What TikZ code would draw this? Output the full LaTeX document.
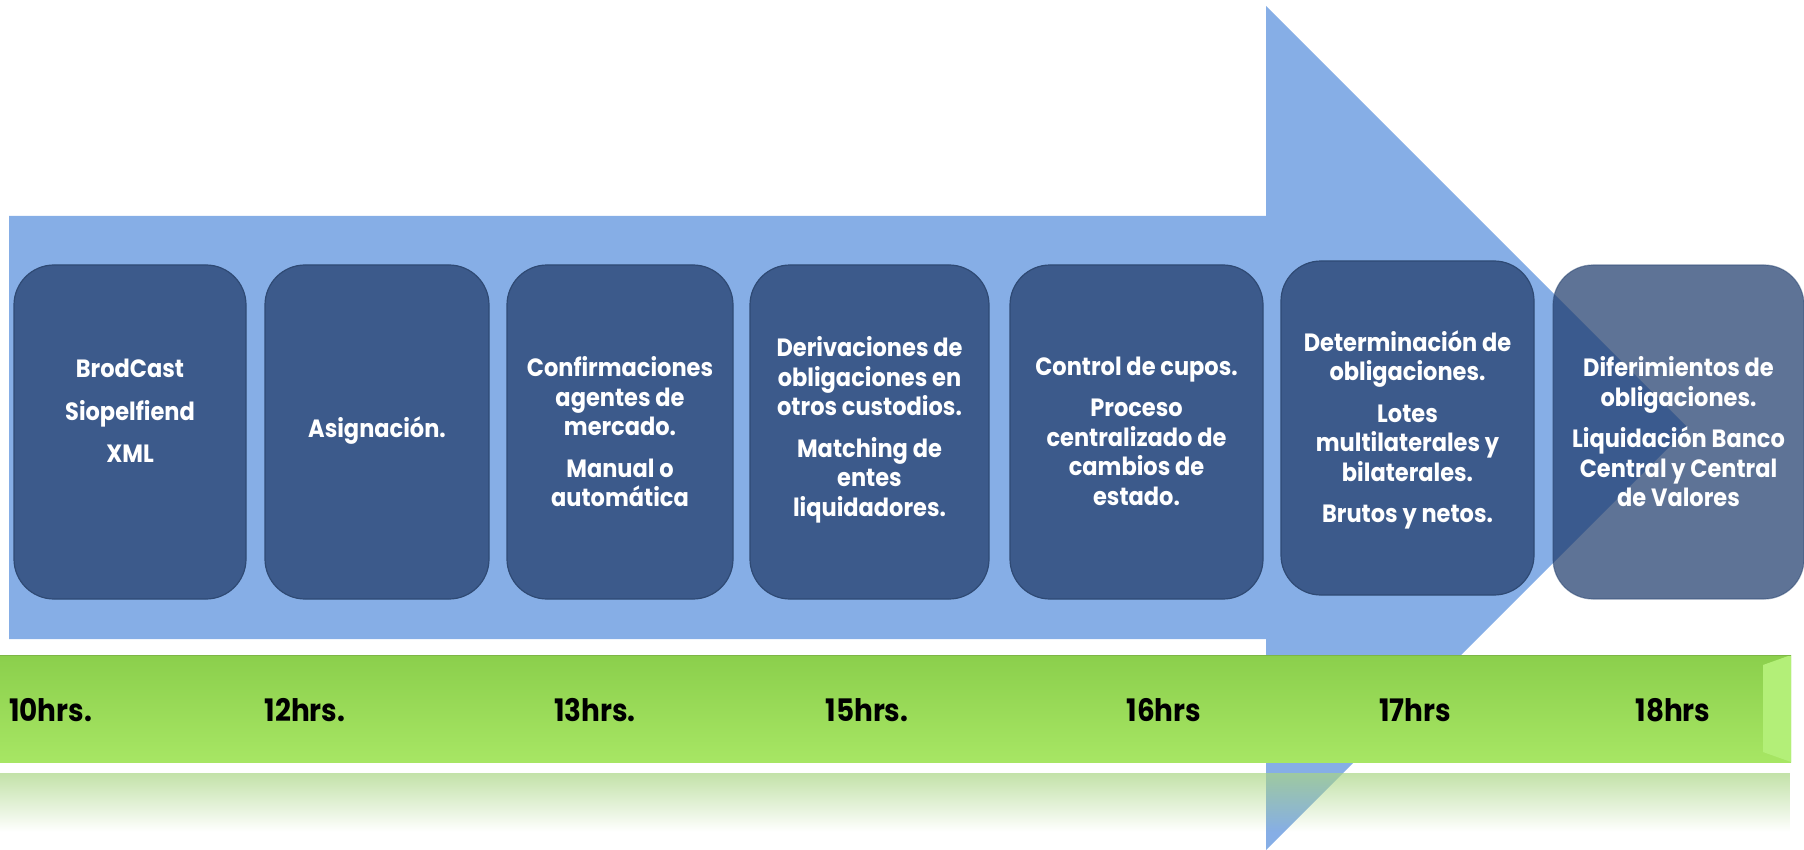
\documentclass[tikz,border=0pt]{standalone}
\usepackage{fontspec}
\setmainfont{Poppins}[FakeStretch=0.9]
\usetikzlibrary{fadings}
\definecolor{arrowblue}{HTML}{86AEE6}
\definecolor{boxblue}{HTML}{3C5A8B}
\definecolor{boxedge}{HTML}{2F4A74}
\definecolor{lastbox}{HTML}{1A3769}
\definecolor{greentop}{HTML}{8BCF4C}
\definecolor{greenbot}{HTML}{A7E664}
\definecolor{greenbevel}{HTML}{B3EF78}
\definecolor{greenline}{HTML}{7DB646}
\definecolor{reflgreen}{HTML}{A9D583}
\tikzfading[name=reflfade, top color=transparent!30, bottom color=transparent!100]
\begin{document}
\begin{tikzpicture}[x=1pt,y=-1pt,
  stepbox/.style={draw=boxedge, line width=1.2pt, fill=boxblue, rounded corners=40pt, inner sep=0pt, minimum height=334pt},
  boxtext/.style={text=white, align=center, font=\bfseries\fontsize{25}{29.5}\selectfont, inner sep=0pt},
  hrs/.style={text=black, font=\bfseries\fontsize{31}{34}\selectfont, inner sep=0pt}]
\useasboundingbox (0,0) rectangle (1804,850);
% big arrow
\fill[arrowblue] (9,216) -- (1266,216) -- (1266,6) -- (1688,428) -- (1266,850) -- (1266,639) -- (9,639) -- cycle;
% boxes
\node[stepbox, minimum width=232pt] (b1) at (130,432) {};
\node[stepbox, minimum width=224pt] (b2) at (377,432) {};
\node[stepbox, minimum width=226pt] (b3) at (620,432) {};
\node[stepbox, minimum width=239pt] (b4) at (869.5,432) {};
\node[stepbox, minimum width=253pt] (b5) at (1136.5,432) {};
\node[stepbox, minimum width=253pt] (b6) at (1407.5,428) {};
\node[stepbox, minimum width=251pt, fill=lastbox, fill opacity=0.7, draw opacity=0.5] (b7) at (1678.5,432) {};
% box texts
\node[boxtext] (t1) at (130,411) {BrodCast\\[13pt]Siopelfiend\\[13pt]XML};
\node[boxtext] (t2) at (377,431) {Asignación.};
\node[boxtext] (t3) at (620,432) {Confirmaciones\\agentes de\\mercado.\\[12pt]Manual o\\automática};
\node[boxtext] (t4) at (869.5,430) {Derivaciones de\\obligaciones en\\otros custodios.\\[12pt]Matching de\\entes\\liquidadores.};
\node[boxtext] (t5) at (1136.5,431) {Control de cupos.\\[12pt]Proceso\\centralizado de\\cambios de\\estado.};
\node[boxtext] (t6) at (1407.5,430) {Determinación de\\obligaciones.\\[12pt]Lotes\\multilaterales y\\bilaterales.\\[12pt]Brutos y netos.};
\node[boxtext] (t7) at (1678.5,432) {Diferimientos de\\obligaciones.\\[12pt]Liquidación Banco\\Central y Central\\de Valores};
% green time bar
\shade[top color=greentop, bottom color=greenbot] (0,655) rectangle (1791,762);
\fill[greenbevel] (1763,665) -- (1791,655) -- (1791,762) -- (1763,752) -- cycle;
\draw[greenline, line width=1pt] (0,655.5) -- (1791,655.5);
% reflection
\fill[reflgreen, path fading=reflfade] (0,773) rectangle (1791,832);
% hours
\node[hrs, anchor=west] (h10) at (9,710) {10hrs.};
\node[hrs] (h12) at (305,710) {12hrs.};
\node[hrs] (h13) at (595,710) {13hrs.};
\node[hrs] (h15) at (867,710) {15hrs.};
\node[hrs] (h16) at (1164,710) {16hrs};
\node[hrs] (h17) at (1415,710) {17hrs};
\node[hrs] (h18) at (1673,710) {18hrs};
\end{tikzpicture}
\end{document}
